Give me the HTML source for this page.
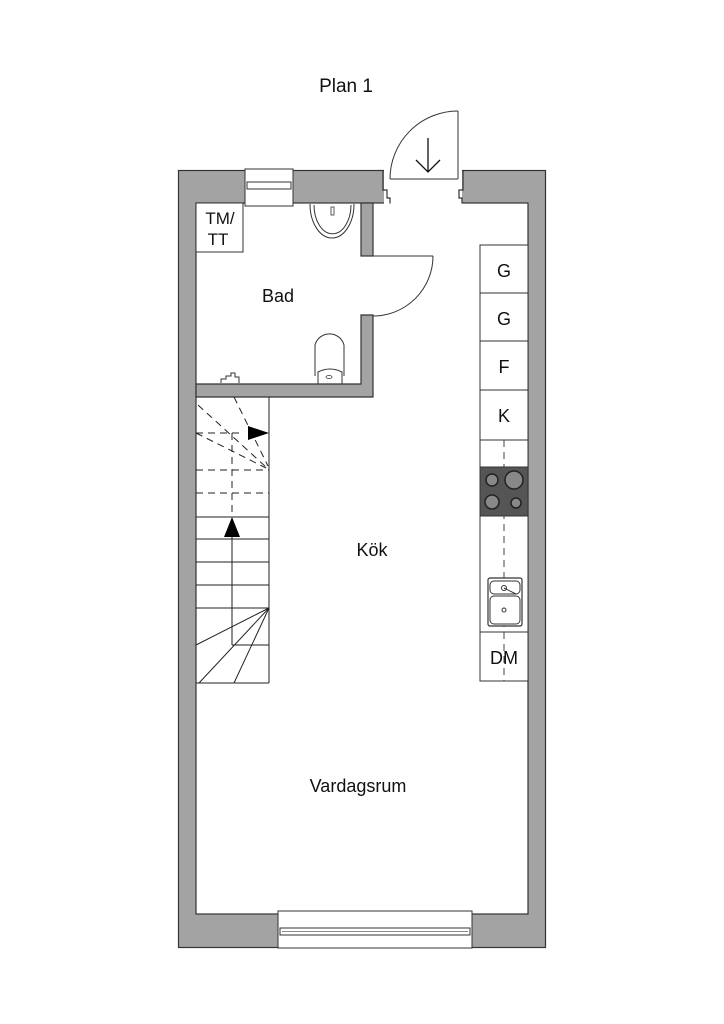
<!DOCTYPE html>
<html><head><meta charset="utf-8"><style>
html,body{margin:0;padding:0;background:#fff;}
svg{display:block;}
text{font-family:"Liberation Sans",sans-serif;fill:#111;}
</style></head><body>
<svg width="724" height="1024" viewBox="0 0 724 1024" xmlns="http://www.w3.org/2000/svg">
<rect width="724" height="1024" fill="#fff"/>
<text x="346" y="92" font-size="19" text-anchor="middle">Plan 1</text>
<rect x="178.5" y="170.5" width="367" height="777" fill="#a3a3a3" stroke="#333" stroke-width="1.2"/>
<rect x="196" y="203" width="332" height="711" fill="#fff" stroke="#333" stroke-width="1.2"/>
<rect x="384" y="168" width="78" height="36" fill="#fff"/>
<path d="M383 170.5 V190 H387 V198 H390 V203.5 M463 170.5 V190 H459 V198 H462 V203.5" fill="none" stroke="#333" stroke-width="1.2"/>
<line x1="390" y1="179" x2="458" y2="179" stroke="#333" stroke-width="1"/>
<line x1="458" y1="111" x2="458" y2="179" stroke="#333" stroke-width="1"/>
<path d="M458 111 A68 68 0 0 0 390 179" fill="none" stroke="#333" stroke-width="1"/>
<path d="M428 138 V172 M416 160 L428 172 L440 160" fill="none" stroke="#111" stroke-width="1.3"/>
<rect x="245" y="169" width="48" height="37" fill="#fff" stroke="#333" stroke-width="1"/>
<rect x="247" y="182" width="44" height="7" fill="#fff" stroke="#333" stroke-width="1"/>
<rect x="361" y="203" width="12" height="53" fill="#a3a3a3" stroke="#333" stroke-width="1.2"/>
<path d="M196 384 H361 V315 H373 V397 H196 Z" fill="#a3a3a3" stroke="#333" stroke-width="1.2"/>
<line x1="373" y1="256" x2="433" y2="256" stroke="#333" stroke-width="1"/>
<path d="M433 256 A60 60 0 0 1 373 316" fill="none" stroke="#333" stroke-width="1"/>
<rect x="196" y="203" width="47" height="49" fill="#fff" stroke="#333" stroke-width="1"/>
<text x="220" y="224" font-size="17" text-anchor="middle">TM/</text>
<text x="218" y="245" font-size="17" text-anchor="middle">TT</text>
<path d="M310 204 A22 34 0 0 0 354 204" fill="none" stroke="#333" stroke-width="1"/>
<path d="M314 205 A18 28 0 0 0 351 205" fill="none" stroke="#333" stroke-width="1"/>
<path d="M314 212 A18 24 0 0 0 351 212" fill="none" stroke="#333" stroke-width="0"/>
<rect x="331" y="207" width="3" height="8" fill="#fff" stroke="#333" stroke-width="0.8"/>
<path d="M315 376 V345 A15 15 0 0 1 344 345 V376" fill="#fff" stroke="#333" stroke-width="1"/>
<path d="M318 384 V372 Q330 366 342 372 V384" fill="none" stroke="#333" stroke-width="1"/>
<ellipse cx="329" cy="377" rx="3" ry="1.5" fill="none" stroke="#333" stroke-width="0.8"/>
<path d="M221 383 v-4 h5 v-3 h5 v-3 h4 v4 h4 v6" fill="none" stroke="#333" stroke-width="1"/>
<text x="278" y="302" font-size="18" text-anchor="middle">Bad</text>
<g stroke="#222" stroke-width="1" fill="none">
<line x1="269" y1="397" x2="269" y2="683"/>
<line x1="196" y1="683" x2="269" y2="683"/>
<line x1="196" y1="517" x2="269" y2="517"/>
<line x1="196" y1="539" x2="269" y2="539"/>
<line x1="196" y1="562" x2="269" y2="562"/>
<line x1="196" y1="585" x2="269" y2="585"/>
<line x1="196" y1="608" x2="269" y2="608"/>
<line x1="232" y1="645" x2="269" y2="645"/>
<line x1="232" y1="525" x2="232" y2="645"/>
<line x1="269" y1="608" x2="196" y2="645"/>
<line x1="269" y1="608" x2="199" y2="683"/>
<line x1="269" y1="608" x2="234" y2="683"/>
<g stroke-dasharray="7,5">
<line x1="269" y1="397" x2="269" y2="517"/>
<line x1="196" y1="470" x2="269" y2="470"/>
<line x1="196" y1="493" x2="269" y2="493"/>
<line x1="232" y1="433" x2="232" y2="517"/>
<line x1="196" y1="433" x2="244" y2="433"/>
<line x1="198" y1="405" x2="266" y2="467"/>
<line x1="196" y1="433" x2="266" y2="468"/>
<line x1="234" y1="397" x2="268" y2="466"/>
</g>
</g>
<polygon points="248,426 269,433 248,440" fill="#000"/>
<polygon points="232,517 224,537 240,537" fill="#000"/>
<text x="372" y="556" font-size="18" text-anchor="middle">Kök</text>
<text x="358" y="792" font-size="18" text-anchor="middle">Vardagsrum</text>
<g stroke="#333" stroke-width="1" fill="#fff">
<rect x="480" y="245" width="48" height="436"/>
<line x1="480" y1="293" x2="528" y2="293"/>
<line x1="480" y1="341" x2="528" y2="341"/>
<line x1="480" y1="390" x2="528" y2="390"/>
<line x1="480" y1="440" x2="528" y2="440"/>
<line x1="480" y1="632" x2="528" y2="632"/>
</g>
<line x1="504" y1="440" x2="504" y2="681" stroke="#444" stroke-width="1" stroke-dasharray="7,5"/>
<rect x="480" y="467" width="48" height="49" fill="#555" stroke="#333"/>
<g stroke="#222" fill="#888" stroke-width="1.5">
<circle cx="492" cy="480" r="6"/><circle cx="514" cy="480" r="9"/>
<circle cx="492" cy="502" r="7"/><circle cx="516" cy="503" r="5"/>
</g>
<rect x="488" y="578" width="34" height="48" rx="2" fill="#fff" stroke="#333" stroke-width="1.2"/>
<rect x="490" y="581" width="30" height="13" rx="4" fill="#fff" stroke="#333" stroke-width="1"/>
<rect x="490" y="596" width="30" height="28" rx="4" fill="#fff" stroke="#333" stroke-width="1"/>
<circle cx="504" cy="588" r="2.5" fill="none" stroke="#333"/>
<line x1="504" y1="588" x2="516" y2="594" stroke="#333"/>
<circle cx="504" cy="610" r="2" fill="none" stroke="#333"/>
<text x="504" y="277" font-size="18" text-anchor="middle">G</text>
<text x="504" y="325" font-size="18" text-anchor="middle">G</text>
<text x="504" y="373" font-size="18" text-anchor="middle">F</text>
<text x="504" y="422" font-size="18" text-anchor="middle">K</text>
<text x="504" y="664" font-size="18" text-anchor="middle">DM</text>
<rect x="278" y="911" width="194" height="37" fill="#fff" stroke="#333" stroke-width="1"/>
<rect x="280" y="928" width="190" height="7" fill="#fff" stroke="#333" stroke-width="1"/>
<line x1="282" y1="931.5" x2="468" y2="931.5" stroke="#666" stroke-width="0.8"/>
</svg>
</body></html>
